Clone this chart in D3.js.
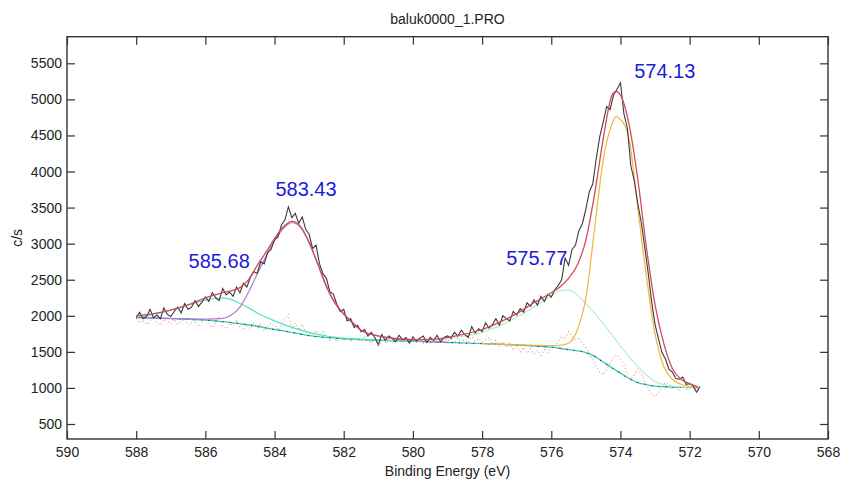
<!DOCTYPE html>
<html><head><meta charset="utf-8">
<script src="https://cdn.jsdelivr.net/npm/d3@7"></script>
<style>
html,body{margin:0;padding:0;background:#fff;}
text{font-family:"Liberation Sans",Arial,sans-serif;}
</style></head>
<body><svg id="chart" width="843" height="484"></svg>
<script>
// ---------------- DATA ----------------
const chartTitle = "baluk0000_1.PRO";
const xLabel = "Binding Energy (eV)";
const yLabel = "c/s";
const xTicks = [590,588,586,584,582,580,578,576,574,572,570,568];
const yTicks = [500,1000,1500,2000,2500,3000,3500,4000,4500,5000,5500];

// raw spectrum: 0.1 eV steps from 588.0 down to 571.7
const rawStart = 588.0, rawStep = 0.1;
const rawCounts = [
 1980,2050,1960,1990,2090,1970,2010,1960,2110,2020,1990,
 2060,2120,2040,2170,2090,2120,2210,2130,2190,2260,
 2200,2320,2250,2210,2380,2290,2330,2270,2400,2320,
 2450,2400,2530,2610,2590,2750,2720,2880,2920,3060,
 3090,3260,3330,3510,3360,3420,3280,3370,3200,3130,
 2930,2980,2720,2580,2520,2330,2300,2160,2060,2090,
 1930,1960,1840,1870,1780,1810,1720,1770,1700,1600,
 1740,1660,1720,1690,1640,1730,1670,1700,1620,1710,
 1650,1690,1720,1630,1700,1660,1730,1640,1700,1720,
 1690,1770,1720,1800,1740,1700,1850,1760,1820,1780,
 1900,1830,1880,1960,1870,2000,1960,1930,2060,2010,
 2100,2050,2180,2130,2220,2150,2270,2200,2300,2260,
 2360,2420,2500,2800,2700,2920,2980,3180,3280,3480,
 3720,3830,4180,4480,4680,4900,4860,5060,5140,5230,
 4800,4600,4080,3870,3560,3300,2960,2600,2200,1880,
 1680,1490,1400,1260,1220,1130,1120,1150,1050,1060,
 1030,940,1020
];
const residualCounts = [
 1960,1900,1940,1880,1930,1990,1900,1870,1950,1920,1890,
 1950,1880,1920,1960,1870,1900,1940,1850,1910,1960,
 1880,1840,1920,1990,1860,1820,1900,1870,1930,1850,
 1800,1860,1820,1900,1840,1880,1790,1850,1900,1880,
 1820,1870,1960,2020,1820,1900,1800,1880,1780,1760,
 1740,1800,1720,1780,1700,1660,1720,1640,1700,1660,
 1690,1650,1700,1680,1640,1720,1660,1620,1700,1560,
 1660,1630,1670,1620,1690,1660,1630,1670,1620,1660,
 1630,1680,1620,1660,1610,1680,1650,1620,1690,1650,
 1680,1620,1690,1620,1680,1640,1710,1650,1690,1640,
 1660,1700,1600,1660,1580,1640,1560,1620,1520,1580,
 1500,1560,1480,1540,1470,1520,1450,1530,1490,1560,
 1580,1640,1720,1680,1780,1720,1660,1700,1620,1560,
 1480,1380,1300,1220,1180,1260,1350,1420,1460,1400,
 1320,1200,1120,1180,1260,1200,1100,1000,920,880,
 940,1020,1080,1050,990,1010,960,1030,980,1000,
 1010,960,990
];

// fitted envelope
const envE = [588,587.5,587,586.5,586,585.5,585,584.75,584.5,584.25,584,583.75,583.5,583.25,583,582.75,582.5,582.25,582,581.75,581.5,581,580.5,580,579.5,579,578.5,578,577.5,577,576.5,576,575.75,575.5,575.25,575,574.75,574.5,574.25,574.13,574,573.75,573.5,573.25,573,572.75,572.5,572.25,572,571.75];
const envV = [2000,2030,2080,2150,2250,2320,2390,2500,2700,2880,3070,3230,3310,3240,3020,2720,2410,2180,2030,1910,1800,1720,1685,1670,1672,1700,1745,1810,1910,2030,2180,2320,2400,2520,2700,3050,3680,4450,5050,5110,5060,4650,3900,2950,2150,1620,1270,1120,1060,1010];

// Shirley background
const bgE = [588,587,586,585.5,585,584.5,584,583.5,583,582.5,582,581,580,579,578,577,576.5,576,575.75,575.5,575,574.75,574.5,574.25,574,573.75,573.5,573.25,573,572.5,572,571.75];
const bgV = [1975,1960,1940,1920,1890,1855,1810,1770,1725,1700,1680,1660,1645,1630,1615,1595,1580,1565,1550,1530,1490,1440,1360,1280,1205,1130,1075,1045,1025,1012,1005,1000];

// component 583.43
const c1E = [588,587,586,585.5,585.25,585,584.75,584.5,584.25,584,583.75,583.5,583.25,583,582.75,582.5,582.25,582,581.75,581.5,581,580.5,580,579];
const c1V = [1975,1965,1955,1965,2010,2120,2330,2580,2820,3040,3210,3290,3225,3010,2710,2400,2170,2020,1900,1800,1720,1680,1655,1632];

// component 585.68
const c2E = [588,587.5,587,586.5,586,585.75,585.5,585.25,585,584.75,584.5,584,583.5,583,582.5,582,581,580];
const c2V = [1980,2020,2080,2150,2215,2240,2245,2225,2170,2110,2040,1930,1840,1770,1720,1690,1665,1645];

// component 575.77
const c3E = [580,579,578.5,578,577.5,577,576.5,576,575.75,575.5,575.25,575,574.75,574.5,574.25,574,573.75,573.5,573.25,573,572.75,572.5,572,571.75];
const c3V = [1650,1680,1720,1770,1860,1980,2120,2270,2350,2360,2290,2170,2040,1890,1740,1580,1430,1300,1180,1090,1045,1025,1010,1005];

// component 574.13
const c4E = [578,577,576,575.75,575.5,575.25,575,574.75,574.5,574.25,574.13,574,573.75,573.5,573.25,573,572.75,572.5,572.25,572,571.75];
const c4V = [1615,1597,1588,1592,1620,1800,2250,3200,4150,4650,4760,4720,4450,3500,2550,1750,1300,1120,1050,1020,1005];

// peak labels
const peakNames = ["574.13","583.43","585.68","575.77"];
const peakLabelE = [572.72,583.09,585.6,576.42];
const peakLabelV = [5290,3661,2660,2710];

// ---------------- DRAW ----------------
const svg = d3.select("#chart");
const L = 67, R = 828, T = 36.7, B = 439;
const x = d3.scaleLinear().domain([590,568]).range([L,R]);
const y = d3.scaleLinear().domain([292,5869]).range([B,T]);

const rawE = rawCounts.map((d,i)=> +(rawStart - i*rawStep).toFixed(2));
const zip = (E,V)=>E.map((e,i)=>[e,V[i]]);
const line = d3.line().x(d=>x(d[0])).y(d=>y(d[1]));
const smooth = d3.line().x(d=>x(d[0])).y(d=>y(d[1])).curve(d3.curveMonotoneX);

const g = svg.append("g");

// residual (dotted)
g.append("path").datum(zip(rawE,residualCounts)).attr("d",line)
 .attr("fill","none").attr("stroke","#e48080").attr("stroke-width",1.1)
 .attr("stroke-dasharray","1,2.5").attr("opacity",0.9);

// background
g.append("path").datum(zip(bgE,bgV)).attr("d",smooth)
 .attr("fill","none").attr("stroke","#3cc8c0").attr("stroke-width",1.3);
g.append("path").datum(zip(bgE,bgV)).attr("d",smooth)
 .attr("fill","none").attr("stroke","#2a4a40").attr("stroke-width",1.2)
 .attr("stroke-dasharray","1.2,6");

// components
const comps = [
 {E:c2E,V:c2V,color:"#55e6bc"},
 {E:c3E,V:c3V,color:"#b4f2cc"},
 {E:c1E,V:c1V,color:"#b678d8"},
 {E:c4E,V:c4V,color:"#f2b43a"}
];
comps.forEach(c=>{
 g.append("path").datum(zip(c.E,c.V)).attr("d",smooth)
  .attr("fill","none").attr("stroke",c.color).attr("stroke-width",1.2);
});

// raw
g.append("path").datum(zip(rawE,rawCounts)).attr("d",line)
 .attr("fill","none").attr("stroke","#3a3a3a").attr("stroke-width",1.1);

// envelope
g.append("path").datum(zip(envE,envV)).attr("d",smooth)
 .attr("fill","none").attr("stroke","#d44a5a").attr("stroke-width",1.3);

// frame
svg.append("rect").attr("x",L).attr("y",T).attr("width",R-L).attr("height",B-T)
 .attr("fill","none").attr("stroke","#333").attr("stroke-width",1.4);

// axes
const fs = "14px";
const ax = svg.append("g").attr("transform",`translate(0,${B})`)
 .call(d3.axisBottom(x).tickValues(xTicks).tickFormat(d3.format("d")).tickSizeInner(-8).tickSizeOuter(0).tickPadding(8));
const axT = svg.append("g").attr("transform",`translate(0,${T})`)
 .call(d3.axisTop(x).tickValues(xTicks).tickFormat("").tickSizeInner(-8).tickSizeOuter(0));
const ay = svg.append("g").attr("transform",`translate(${L},0)`)
 .call(d3.axisLeft(y).tickValues(yTicks).tickFormat(d3.format("d")).tickSizeInner(-8).tickSizeOuter(0).tickPadding(5));
const ayR = svg.append("g").attr("transform",`translate(${R},0)`)
 .call(d3.axisRight(y).tickValues(yTicks).tickFormat("").tickSizeInner(-8).tickSizeOuter(0));
[ax,axT,ay,ayR].forEach(a=>{
 a.select(".domain").remove();
 a.selectAll(".tick line").attr("stroke","#333").attr("stroke-width",1.2);
 a.selectAll("text").attr("font-size",fs).attr("fill","#222")
  .attr("font-family","'Liberation Sans',Arial,sans-serif");
});

// titles
svg.append("text").attr("x",(L+R)/2).attr("y",24).attr("text-anchor","middle")
 .attr("font-size","14px").attr("fill","#222").text(chartTitle);
svg.append("text").attr("x",(L+R)/2).attr("y",476).attr("text-anchor","middle")
 .attr("font-size","14px").attr("fill","#222").text(xLabel);
svg.append("text").attr("transform",`translate(22,${(T+B)/2}) rotate(-90)`)
 .attr("text-anchor","middle").attr("font-size","14px").attr("fill","#222").text(yLabel);

// peak labels
peakNames.forEach((n,i)=>{
 svg.append("text").attr("x",x(peakLabelE[i])).attr("y",y(peakLabelV[i]))
  .attr("text-anchor","middle").attr("font-size","20px").attr("fill","#1c1cd8").text(n);
});
</script></body></html>
